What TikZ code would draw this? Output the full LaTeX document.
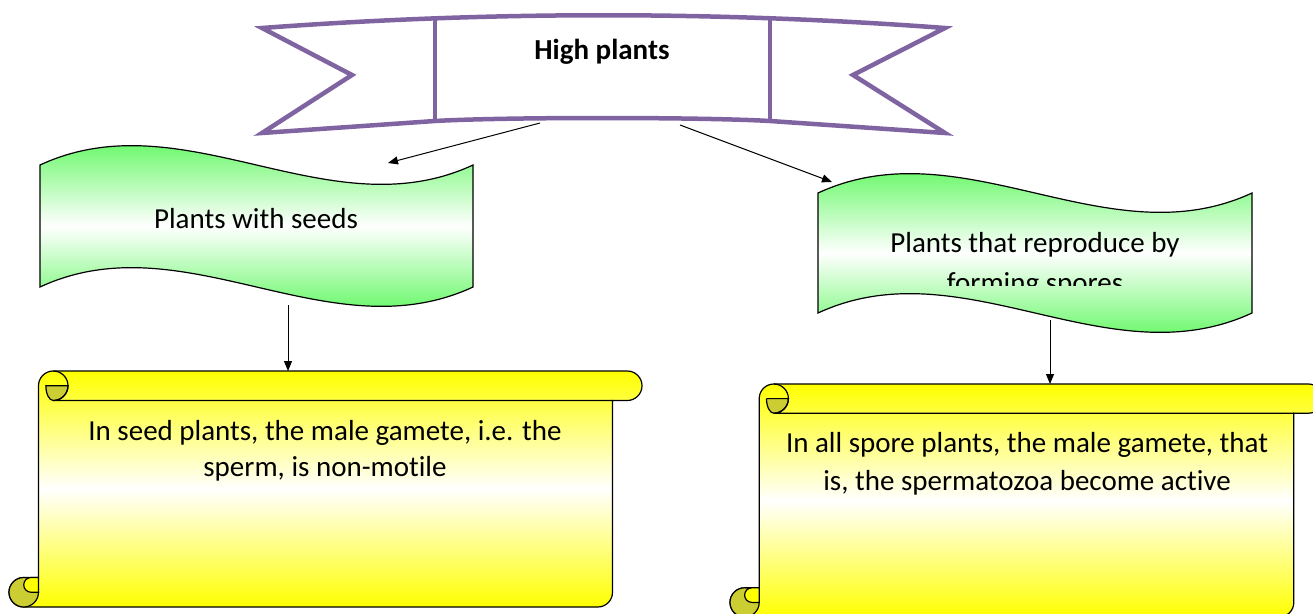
\documentclass[tikz,border=0pt]{standalone}
\usepackage{fontspec}
\setmainfont{Carlito}[Ligatures=NoCommon]
\usepackage{tikz}
\usetikzlibrary{arrows.meta}
\definecolor{ribbonpurple}{RGB}{128,100,162}
\definecolor{flaggreen}{RGB}{30,245,30}
\definecolor{scrollyellow}{RGB}{255,255,0}
\definecolor{curlolive}{RGB}{204,204,51}

\begin{document}
\begin{tikzpicture}[
    x=1pt, y=1pt, yscale=-1,
    >={Triangle[length=10pt,width=8pt]},
    ribbonline/.style={draw=ribbonpurple, line width=4.5pt},
    flagshape/.style={draw, line width=1.2pt, top color=flaggreen,
                      bottom color=flaggreen, middle color=white},
    scrollshape/.style={draw, line width=1.2pt, top color=scrollyellow,
                        bottom color=scrollyellow, middle color=white},
    scrollline/.style={draw, line width=1.2pt},
    curlfill/.style={draw, line width=1.2pt, fill=curlolive},
    linkarrow/.style={->, line width=1pt},
    boxtext/.style={font=\fontsize{29}{36}\selectfont, align=center, inner sep=0pt},
  ]
  \useasboundingbox (0,0) rectangle (1313,613);
  \clip (0,0) rectangle (1313,613);

  % === Ribbon banner (top) ===
  \draw[ribbonline, fill=white]
    (262,28) .. controls (490,11) and (717,11) .. (945,28)
    -- (853,75) -- (945,133) -- (770,121)
    .. controls (700,117) and (505,117) .. (435,121)
    -- (262,133) -- (352,75) -- cycle;
  \draw[ribbonline] (435,18.4) -- (435,121);
  \draw[ribbonline] (770,18.4) -- (770,121);
  \node[boxtext] (title) at (602,52) {\bfseries High plants};

  % === Wave flags ===
  \foreach \lx/\ty/\rx/\by in {40/165/473/287, 818/193/1252/313}
    \draw[flagshape] (\lx,\ty)
      .. controls ({\lx+(\rx-\lx)/3},{\ty-67}) and ({\lx+2*(\rx-\lx)/3},{\ty+67}) .. (\rx,\ty)
      -- (\rx,\by)
      .. controls ({\lx+2*(\rx-\lx)/3},{\by+67}) and ({\lx+(\rx-\lx)/3},{\by-67}) .. (\lx,\by)
      -- cycle;
  \node[boxtext] (seeds) at (256,219) {Plants with seeds};
  \begin{scope}
    \clip (818,150) rectangle (1252,285);
    \node[boxtext, font=\fontsize{29}{40}\selectfont] (spores) at (1035,265)
      {Plants that reproduce by\\forming spores};
  \end{scope}

  % === Scrolls ===
  \foreach \lx/\ty/\rx/\by/\c in {9/371/642/607/29.5, 730/384/1323/617/29.2} {
    \pgfmathsetmacro\h{\c/2}
    \pgfmathsetmacro\q{\c/4}
    % paper with its rolls
    \draw[scrollshape] (\lx+\c,\ty+\h) arc[start angle=180, end angle=270, radius=\h pt]
      -- (\rx-\h,\ty) arc[start angle=-90, end angle=90, radius=\h pt]
      -- (\rx-\c,\ty+\c) -- (\rx-\c,\by-\h) arc[start angle=0, end angle=90, radius=\h pt]
      -- (\lx+\h,\by) arc[start angle=90, end angle=270, radius=\h pt]
      -- (\lx+\c,\by-\c) -- cycle;
    % top curl
    \draw[curlfill] (\lx+\c+\q,\ty+\h) -- (\lx+2*\c,\ty+\h)
      arc[start angle=0, end angle=90, radius=\h pt]
      arc[start angle=90, end angle=180, x radius=\q pt, y radius=\h pt] -- cycle;
    \draw[scrollline] (\lx+\c+\h,\ty) arc[start angle=-90, end angle=90, radius=\h pt]
      -- (\rx-\c,\ty+\c);
    % bottom curl
    \draw[curlfill] (\lx+\h,\by-\h) circle[radius=\h pt];
    \draw[scrollline, fill=scrollyellow] (\lx+\c,\by-\c) -- (\lx+\h+\q,\by-\c)
      arc[start angle=270, end angle=90, radius=\q pt] -- (\lx+\c,\by-\h) -- cycle;
  }
  \node[boxtext] (seednote) at (325,451)
    {In seed plants, the male gamete, i.e. the\\sperm, is non-motile};
  \node[boxtext, font=\fontsize{29}{38}\selectfont] (sporenote) at (1027,464)
    {In all spore plants, the male gamete, that\\is, the spermatozoa become active};

  % === Connectors ===
  \coordinate (titleleft) at (540,123);
  \coordinate (titleright) at (680,125);
  \coordinate (seedsin) at (388,163);
  \coordinate (sporesin) at (832,182);
  \coordinate (seedsout) at (288,305);
  \coordinate (seednotein) at (288,371);
  \coordinate (sporesout) at (1050,320);
  \coordinate (sporenotein) at (1050,384);
  \draw[linkarrow] (titleleft) -- (seedsin);
  \draw[linkarrow] (titleright) -- (sporesin);
  \draw[linkarrow] (seedsout) -- (seednotein);
  \draw[linkarrow] (sporesout) -- (sporenotein);

\end{tikzpicture}
\end{document}
